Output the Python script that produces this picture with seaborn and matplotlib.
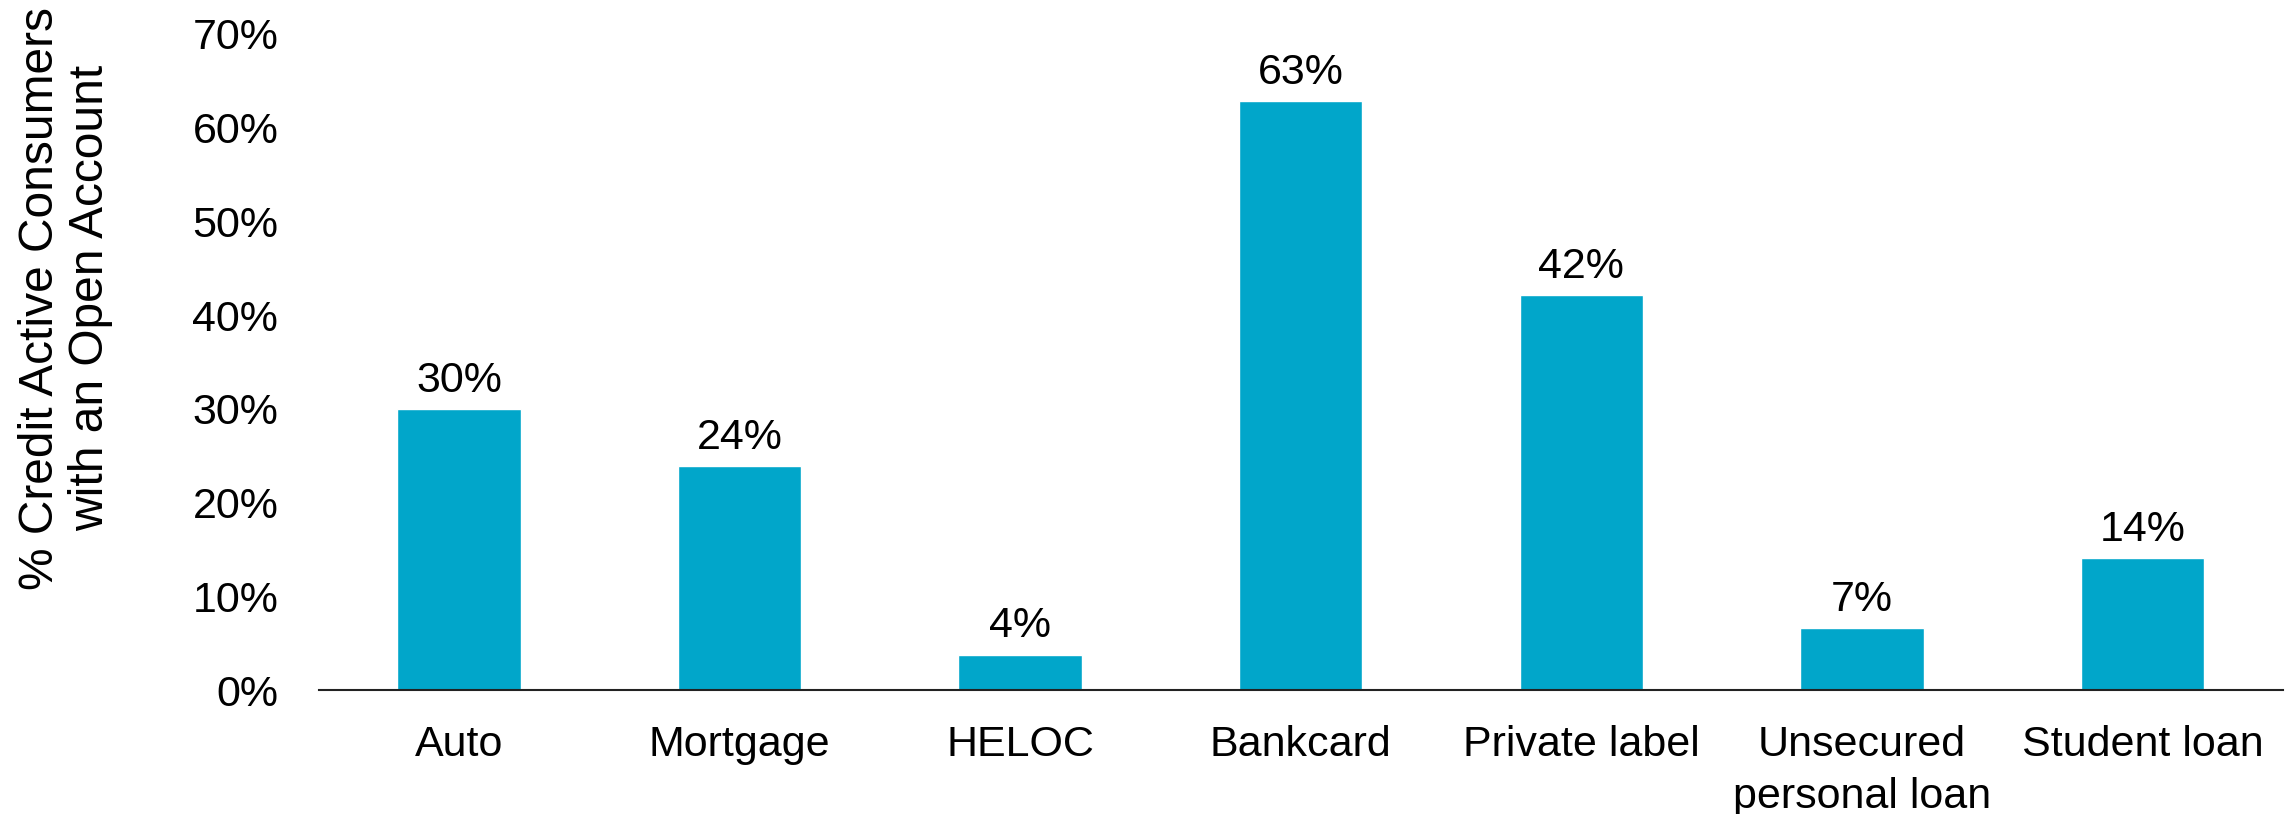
import matplotlib
matplotlib.use("Agg")
import matplotlib.pyplot as plt
import seaborn as sns
import pandas as pd

categories = ["Auto", "Mortgage", "HELOC", "Bankcard", "Private label",
              "Unsecured\npersonal loan", "Student loan"]
share_pct = [30.0, 23.9, 3.8, 62.8, 42.1, 6.6, 14.1]
y_ticks = [0, 10, 20, 30, 40, 50, 60, 70]
y_label = "% Credit Active Consumers\nwith an Open Account"

BAR_COLOR = "#01A6CA"

sns.set_theme(style="white")
plt.rcParams["font.family"] = ["Liberation Sans", "DejaVu Sans"]

df = pd.DataFrame({"category": categories, "share": share_pct})

fig = plt.figure(figsize=(22.92, 8.14), dpi=100)
ax = fig.add_axes([0.139, 0.152, 0.857, 0.8067])

sns.barplot(data=df, x="category", y="share", color=BAR_COLOR,
            saturation=1, width=0.44, ax=ax)

ax.set_xlim(-0.5, len(categories) - 0.5)
ax.set_ylim(0, 70)
ax.set_yticks(y_ticks)
ax.set_yticklabels([f"{t}%" for t in y_ticks])

for s in ["top", "right", "left"]:
    ax.spines[s].set_visible(False)
ax.spines["bottom"].set_color("#222222")
ax.spines["bottom"].set_linewidth(1.5)

ax.tick_params(axis="y", length=0, pad=29, labelsize=31, labelcolor="black")
ax.tick_params(axis="x", length=0, pad=25, labelsize=31, labelcolor="black")
for lbl in ax.get_xticklabels():
    lbl.set_linespacing(1.4)

ax.set_xlabel("")
ax.set_ylabel(y_label, fontsize=34.5, color="black", va="center", linespacing=1.165)
ax.yaxis.set_label_coords(-0.1288, 0.597)

for container in ax.containers:
    ax.bar_label(container, labels=[f"{v:.0f}%" for v in share_pct],
                 padding=6, fontsize=31, color="black")

fig.savefig("out.png", dpi=100)
